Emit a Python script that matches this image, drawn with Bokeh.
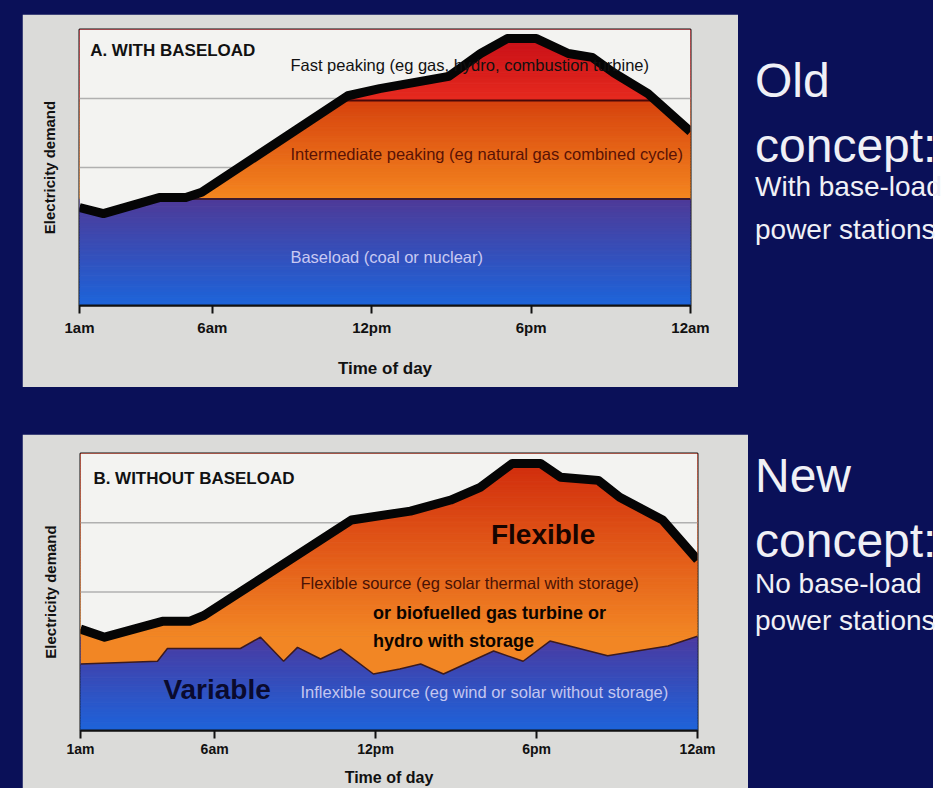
import numpy as np
from bokeh.plotting import figure
from bokeh.models import Range1d, FixedTicker, Label, Div
from bokeh.layouts import column, row
from bokeh.embed import file_html
from bokeh.resources import INLINE

# ---------------- data ----------------
tick_hours = [1, 6, 12, 18, 24]
tick_labels = ["1am", "6am", "12pm", "6pm", "12am"]

# Panel A: with baseload
hours_a = [1.0, 1.9, 4.0, 5.0, 5.6, 11.1, 12.3, 14.0, 14.9, 16.1, 17.1, 18.2,
           19.4, 20.3, 21.1, 22.4, 24.0]
demand_a = [35.5, 33.3, 39.1, 39.1, 41.0, 76.0, 78.6, 81.5, 83.0, 91.3, 96.7, 96.7,
            91.3, 89.9, 84.4, 76.8, 63.0]
baseload_level = 38.6
intermediate_level = 74.3

# Panel B: without baseload
hours_b = [1.0, 1.9, 4.05, 5.06, 5.6, 11.1, 13.3, 14.8, 15.9, 17.1, 18.15, 18.9,
           20.3, 21.1, 22.7, 24.0]
demand_b = [36.6, 33.7, 39.4, 39.4, 41.5, 76.0, 79.2, 83.2, 87.8, 96.4, 96.4, 91.4,
            90.3, 84.2, 76.0, 61.6]
var_hours = [1.0, 3.87, 4.24, 6.96, 7.71, 8.57, 9.09, 9.95, 10.69, 11.92, 12.9, 13.68,
             14.53, 16.4, 17.5, 18.5, 20.65, 22.9, 24.0]
variable_b = [24.0, 25.0, 29.6, 29.6, 33.7, 25.0, 30.0, 25.8, 29.4, 20.4, 22.2, 24.0,
              20.4, 28.7, 25.0, 32.3, 27.0, 30.5, 34.0]

grid_levels = [25, 50, 75]

# ---------------- styles ----------------
NAVY = "#0a1058"
FRAME = "#dbdbd9"
PLOT_BG = "#f3f3f1"
FONT = "Liberation Sans"


def hex2rgb(h):
    h = h.lstrip("#")
    return np.array([int(h[i:i + 2], 16) for i in (0, 2, 4)], dtype=float)


def ramp(c0, c1, n):
    a, b = hex2rgb(c0), hex2rgb(c1)
    out = []
    for i in range(n):
        t = i / max(n - 1, 1)
        r, g, bb = a + (b - a) * t
        out.append("#%02x%02x%02x" % (int(round(r)), int(round(g)), int(round(bb))))
    return out


def gradient_bands(p, lo, hi, c_lo, c_hi, step=1.0):
    edges = list(np.arange(lo, hi, step)) + [hi]
    bottoms = edges[:-1]
    tops = edges[1:]
    cols = ramp(c_lo, c_hi, len(bottoms))
    p.quad(left=1, right=24, bottom=bottoms, top=tops, fill_color=cols,
           line_color=cols, line_width=1)


def runs_below(xs, ys, level):
    segs = []
    start = xs[0] if ys[0] < level else None
    for i in range(len(xs) - 1):
        x0, x1, y0, y1 = xs[i], xs[i + 1], ys[i], ys[i + 1]
        if (y0 < level) != (y1 < level):
            xc = x0 + (level - y0) * (x1 - x0) / (y1 - y0)
            if start is None:
                start = xc
            else:
                segs.append((start, xc))
                start = None
    if start is not None:
        segs.append((start, xs[-1]))
    return segs


def base_figure(width, height, left, right, top, bottom, margin):
    p = figure(width=width, height=height, x_range=Range1d(1, 24), y_range=Range1d(0, 100),
               output_backend="svg", toolbar_location=None,
               min_border_left=left, min_border_right=right,
               min_border_top=top, min_border_bottom=bottom,
               background_fill_color=PLOT_BG, border_fill_color=FRAME,
               outline_line_color="#111111", outline_line_width=2, margin=margin)
    p.xgrid.visible = False
    p.ygrid.visible = False
    return p


def style_axes(p, tick_size, tick_standoff, label_size, label_standoff):
    xa = p.xaxis[0]
    xa.ticker = FixedTicker(ticks=tick_hours)
    xa.major_label_overrides = {h: t for h, t in zip(tick_hours, tick_labels)}
    xa.minor_tick_line_color = None
    xa.major_tick_in = 0
    xa.major_tick_out = 8
    xa.major_tick_line_width = 2
    xa.major_tick_line_color = "#111111"
    xa.axis_line_color = "#111111"
    xa.axis_line_width = 2
    xa.major_label_text_font = FONT
    xa.major_label_text_font_style = "bold"
    xa.major_label_text_font_size = tick_size
    xa.major_label_text_color = "#111111"
    xa.major_label_standoff = tick_standoff
    xa.axis_label = "Time of day"
    xa.axis_label_text_font = FONT
    xa.axis_label_text_font_style = "bold"
    xa.axis_label_text_font_size = label_size
    xa.axis_label_text_color = "#111111"
    xa.axis_label_standoff = label_standoff

    ya = p.yaxis[0]
    ya.ticker = FixedTicker(ticks=[])
    ya.minor_tick_line_color = None
    ya.major_tick_in = 0
    ya.major_tick_out = 0
    ya.axis_line_color = None
    ya.axis_label = "Electricity demand"
    ya.axis_label_text_font = FONT
    ya.axis_label_text_font_style = "bold"
    ya.axis_label_text_font_size = "15px"
    ya.axis_label_text_color = "#111111"
    ya.axis_label_standoff = 22


def add_label(p, x, y, text, size, color, bold=False, align="left"):
    p.add_layout(Label(x=x, y=y, text=text, text_font=FONT, text_font_size=size,
                       text_color=color, text_font_style="bold" if bold else "normal",
                       text_baseline="middle", text_align=align))


def gridlines(p, xs, ys):
    for lv in grid_levels:
        for a, b in runs_below(xs, ys, lv):
            p.segment(x0=a, y0=lv, x1=b, y1=lv, line_color="#b0b0b0", line_width=1.5)


# ---------------- panel A ----------------
pa = base_figure(716, 373, 57, 48, 15, 82, (14, 0, 0, 22))
gradient_bands(pa, 0, baseload_level, "#1d64da", "#4e3a98")
gradient_bands(pa, baseload_level, intermediate_level, "#f4861f", "#d6420e")
gradient_bands(pa, intermediate_level, 100, "#e62a1f", "#c40c16")
pa.line([1, 24], [baseload_level, baseload_level], line_color="#3a1a30", line_width=2)
pa.line([1, 24], [intermediate_level, intermediate_level], line_color="#4a0808", line_width=2)
pa.varea(x=hours_a, y1=demand_a, y2=100, fill_color=PLOT_BG)
gridlines(pa, hours_a, demand_a)
pa.line(hours_a, demand_a, line_color="#050505", line_width=9, line_join="round")
style_axes(pa, "15px", 5, "17px", 20)

add_label(pa, 1.4, 92.4, "A. WITH BASELOAD", "17px", "#111111", bold=True)
add_label(pa, 8.94, 87.0, "Fast peaking (eg gas, hydro, combustion turbine)", "16.5px", "#111111")
add_label(pa, 8.94, 55.0, "Intermediate peaking (eg natural gas combined cycle)", "16.5px", "#5a1205")
add_label(pa, 8.94, 17.4, "Baseload (coal or nuclear)", "16.5px", "#c9c9f2")

# ---------------- panel B ----------------
pb = base_figure(726, 354, 58, 51, 19, 56, (47, 0, 0, 22))
gradient_bands(pb, 0, 34.0, "#1e63da", "#4a3aa0")
gradient_bands(pb, 34.0, 100, "#f28624", "#cf280c")
pb.varea(x=var_hours, y1=variable_b, y2=34.0, fill_color="#f28624")
pb.line(var_hours, variable_b, line_color="#3a1a20", line_width=1.5)
pb.varea(x=hours_b, y1=demand_b, y2=100, fill_color=PLOT_BG)
gridlines(pb, hours_b, demand_b)
pb.line(hours_b, demand_b, line_color="#050505", line_width=9, line_join="round")
style_axes(pb, "14px", 2, "16px", 9)

add_label(pb, 1.48, 91.0, "B. WITHOUT BASELOAD", "17px", "#111111", bold=True)
add_label(pb, 16.3, 70.6, "Flexible", "28px", "#160400", bold=True)
add_label(pb, 9.2, 53.4, "Flexible source (eg solar thermal with storage)", "16.5px", "#4a1205")
add_label(pb, 11.9, 42.3, "or biofuelled gas turbine or", "18px", "#0c0400", bold=True)
add_label(pb, 11.9, 32.3, "hydro with storage", "18px", "#0c0400", bold=True)
add_label(pb, 4.09, 14.7, "Variable", "28px", "#0a0a2e", bold=True)
add_label(pb, 9.2, 14.0, "Inflexible source (eg wind or solar without storage)", "16.5px", "#c4c6f0")


# ---------------- side texts ----------------
def concept_div(lines, width, height, margin):
    parts = ['<div style="position:relative;width:%dpx;height:%dpx;'
             "font-family:'Liberation Sans',Arial,sans-serif;color:#f0f0f6;\">" % (width, height)]
    for txt, size, baseline in lines:
        top = baseline - 0.8465 * size
        parts.append('<div style="position:absolute;left:0;top:%.1fpx;font-size:%dpx;'
                     'line-height:1;white-space:nowrap;">%s</div>' % (top, size, txt))
    parts.append("</div>")
    return Div(text="".join(parts), width=width, height=height, margin=margin,
               styles={"overflow": "visible"})


div_a = concept_div([("Old", 48, 98), ("concept:", 48, 163),
                     ("With base-load", 28, 197), ("power stations", 28, 240)],
                    178, 387, (0, 0, 0, 17))
div_b = concept_div([("New", 48, 106), ("concept:", 48, 171),
                     ("No base-load", 28, 207), ("power stations", 28, 244)],
                    178, 401, (0, 0, 0, 7))

layout = column(row(pa, div_a), row(pb, div_b), width=933, height=788,
                styles={"background-color": NAVY})

open("out.html", "w").write(file_html(layout, INLINE))
